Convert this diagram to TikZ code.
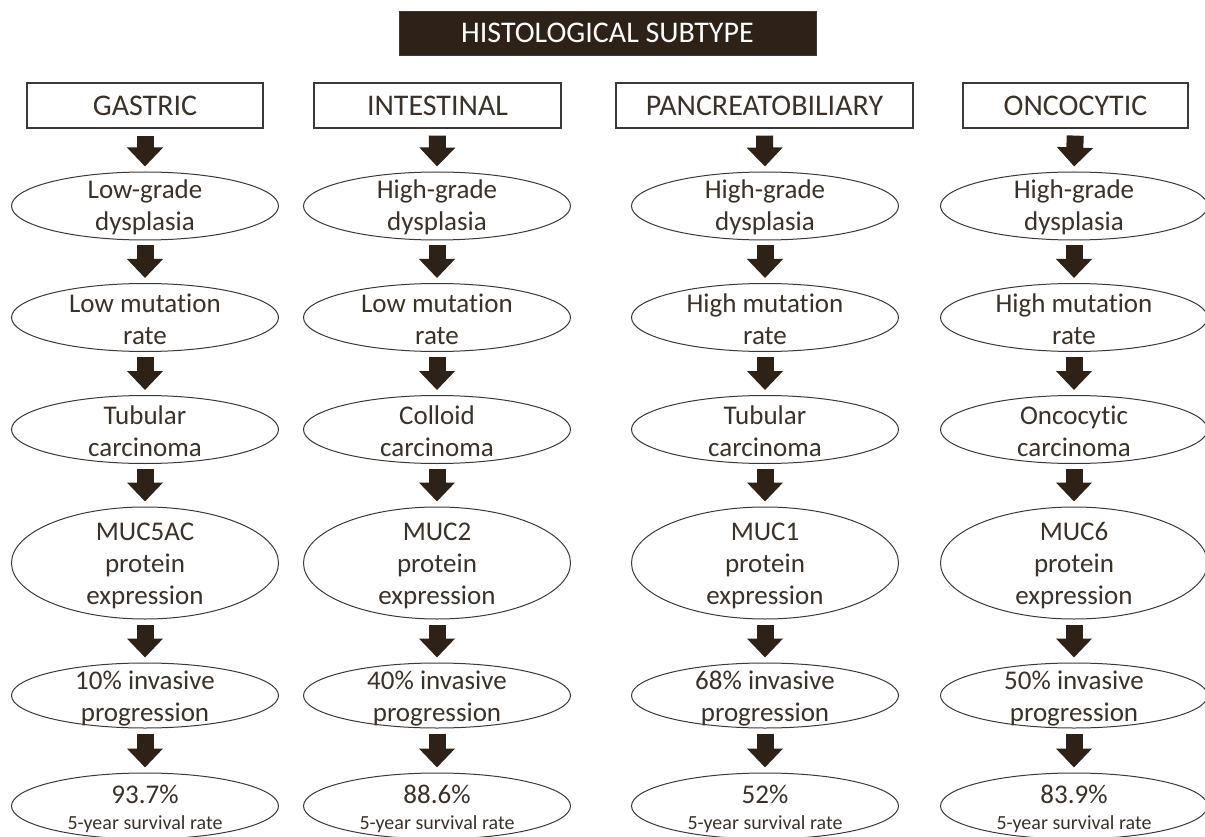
\documentclass[tikz,border=0pt]{standalone}
\usepackage{fontspec}
\setmainfont{Carlito}[Ligatures={NoCommon}]
\usetikzlibrary{shapes.geometric,arrows.meta}
\definecolor{dk}{HTML}{2E2118}
\definecolor{tx}{HTML}{3A3129}
\definecolor{ln}{HTML}{3C3835}
\newcommand{\survfont}{\fontsize{20}{22}\selectfont}
\begin{document}
\begin{tikzpicture}[x=1pt,y=-1pt,
  title/.style={fill=dk,draw=ln,line width=0.8pt,minimum width=417pt,minimum height=44pt,inner sep=0pt,text=white,font=\fontsize{30}{34}\selectfont},
  hbox/.style={draw=ln,line width=1.2pt,minimum height=45pt,inner sep=0pt,text=tx,font=\fontsize{30}{34}\selectfont},
  ell/.style={ellipse,draw=ln,line width=1pt,inner sep=0pt,minimum width=267pt,minimum height=68pt},
  txt/.style={text=tx,align=center,inner sep=0pt,font=\fontsize{27}{32}\selectfont},
  blk/.style={draw=dk,line width=17pt,-{Triangle[width=35pt,length=19pt]},shorten <=5pt,shorten >=5pt},
]
\useasboundingbox (0,0) rectangle (1205,837);

\node[title] (t) at (607.5,33) {HISTOLOGICAL SUBTYPE};

% headers
\node[hbox,minimum width=236pt] (g0) at (145,105.5) {GASTRIC};
\node[hbox,minimum width=247pt] (i0) at (437.5,105.5) {INTESTINAL};
\node[hbox,minimum width=297pt] (p0) at (764.5,105.5) {PANCREATOBILIARY};
\node[hbox,minimum width=225pt] (o0) at (1075.5,105.5) {ONCOCYTIC};

% column nodes
\foreach \c/\x/\a/\b/\cc/\m/\pct/\surv in {
  g/145/Low-grade/Low/Tubular/MUC5AC/10/93.7\%,
  i/437/High-grade/Low/Colloid/MUC2/40/88.6\%,
  p/765/High-grade/High/Tubular/MUC1/68/52\%,
  o/1074/High-grade/High/Oncocytic/MUC6/50/83.9\%}{
  \node[ell,label={[txt,yshift=-1.5pt]center:\a\\dysplasia}] (\c1) at (\x,206) {};
  \node[ell,label={[txt,yshift=-1.5pt]center:\b{} mutation\\rate}] (\c2) at (\x,317.5) {};
  \node[ell,label={[txt,yshift=-1.5pt]center:\cc\\carcinoma}] (\c3) at (\x,429.5) {};
  \node[ell,minimum height=112pt,label={[txt,yshift=-3pt]center:\m\\protein\\expression}] (\c4) at (\x,563) {};
  \node[ell,minimum height=65pt,label={[txt,yshift=-3pt]center:\pct\% invasive\\progression}] (\c5) at (\x,695.5) {};
  \node[ell,minimum height=66pt,label={[txt,yshift=-3pt]center:\surv\\[-6pt]{\survfont 5-year survival rate}}] (\c6) at (\x,806) {};
}

% arrows
\foreach \c in {g,i,p,o}{
  \draw[blk,shorten <=7pt] (\c0.south) -- (\c1.north);
  \draw[blk] (\c1.south) -- (\c2.north);
  \draw[blk] (\c2.south) -- (\c3.north);
  \draw[blk] (\c3.south) -- (\c4.north);
  \draw[blk] (\c4.south) -- (\c5.north);
  \draw[blk] (\c5.south) -- (\c6.north);
}
\end{tikzpicture}
\end{document}
